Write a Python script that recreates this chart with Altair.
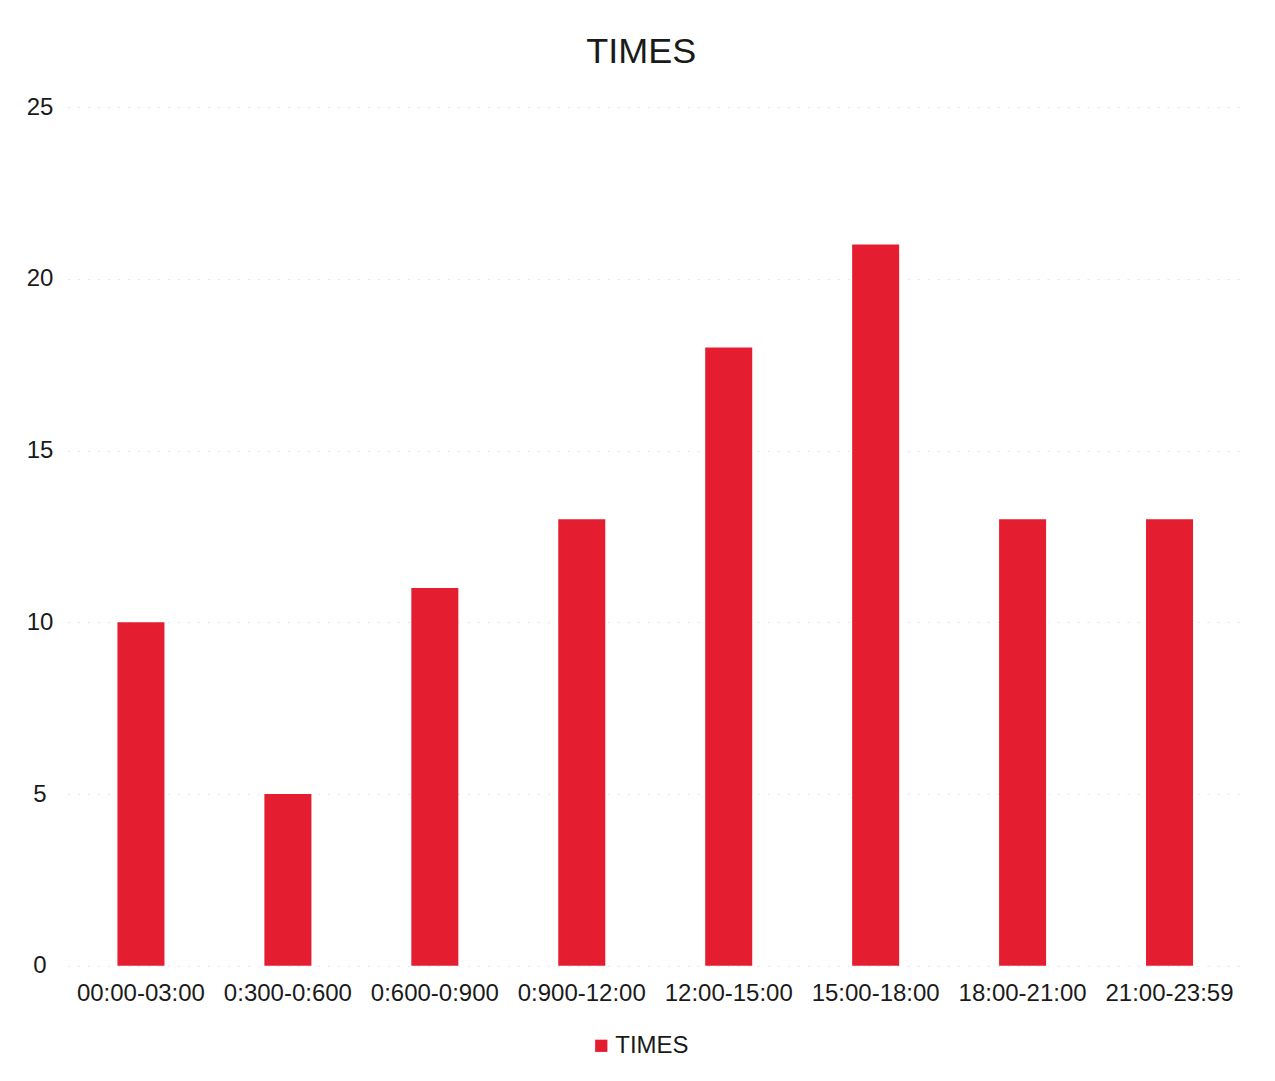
import altair as alt
import pandas as pd

categories = ["00:00-03:00", "0:300-0:600", "0:600-0:900", "0:900-12:00",
              "12:00-15:00", "15:00-18:00", "18:00-21:00", "21:00-23:59"]
values = [10, 5, 11, 13, 18, 21, 13, 13]
series = ["TIMES"] * len(categories)

df = pd.DataFrame({"slot": categories, "count": values, "series": series})

chart = alt.Chart(df).mark_bar(color="#E41E30").encode(
    x=alt.X("slot:N", sort=categories, title=None,
            scale=alt.Scale(paddingInner=0.68, paddingOuter=0.34),
            axis=alt.Axis(labelAngle=0, labelFontSize=24, labelFont="Liberation Sans",
                          labelColor="#1a1a1a", labelPadding=16, ticks=False,
                          domain=False, grid=False)),
    y=alt.Y("count:Q", title=None,
            scale=alt.Scale(domain=[0, 25]),
            axis=alt.Axis(values=[0, 5, 10, 15, 20, 25], labelFontSize=24,
                          labelFont="Liberation Sans", labelColor="#1a1a1a",
                          labelAlign="center", labelPadding=28, ticks=False,
                          domain=False, grid=True, gridColor="#e4e4e4",
                          gridDash=[2, 8], gridWidth=1)),
    fill=alt.Fill("series:N", scale=alt.Scale(range=["#E41E30"]),
                  legend=alt.Legend(title=None, orient="none", legendX=522, legendY=927,
                                    symbolType="square", symbolSize=150,
                                    labelFontSize=24, labelFont="Liberation Sans",
                                    labelColor="#1a1a1a", padding=0, symbolStrokeWidth=0,
                                    labelOffset=2)),
).properties(
    width=1176,
    height=859,
    title=alt.Title("TIMES", fontSize=36, font="Liberation Sans", fontWeight="normal",
                    color="#1a1a1a", anchor="middle", offset=24, dx=-14),
    autosize=alt.AutoSizeParams(type="none"),
    padding={"left": 59.5, "top": 99, "right": 24, "bottom": 100},
).configure_view(stroke=None)

chart.save("out.html", embed_options={"renderer": "svg", "actions": False})
